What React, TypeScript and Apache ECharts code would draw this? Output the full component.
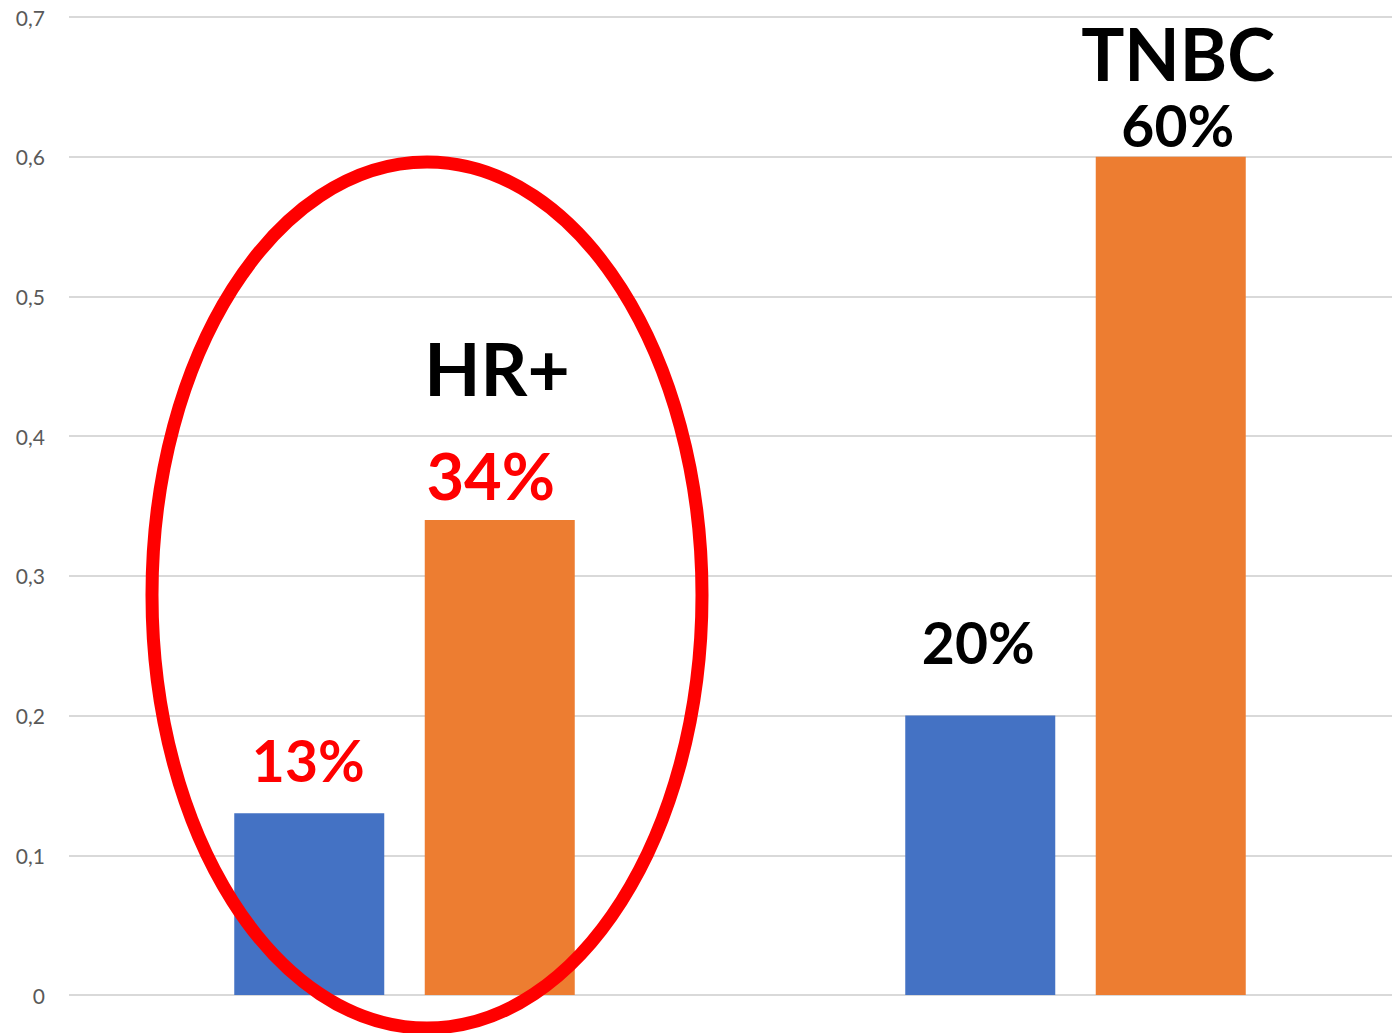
import React, { useEffect, useRef } from "react";
import * as echarts from "echarts";

const categories = ["HR+", "TNBC"];
const seriesBlue = [0.13, 0.2];
const seriesOrange = [0.34, 0.6];
const blueLabels = ["13%", "20%"];
const orangeLabels = ["34%", "60%"];
const yTicks = [0, 0.1, 0.2, 0.3, 0.4, 0.5, 0.6, 0.7];

export default function App() {
  const ref = useRef<HTMLDivElement>(null);
  useEffect(() => {
    if (!ref.current) return;
    const chart = echarts.init(ref.current, undefined, { renderer: "svg" });
    const fontFamily = "Lato, 'Open Sans', sans-serif";
    chart.setOption({
      animation: false,
      grid: { left: 69, top: 17, width: 1342, height: 978, containLabel: false },
      xAxis: {
        type: "category",
        data: categories,
        axisLine: { show: false },
        axisTick: { show: false },
        axisLabel: { show: false },
      },
      yAxis: {
        type: "value",
        min: 0,
        max: 0.7,
        interval: 0.1,
        axisLine: { show: false },
        axisTick: { show: false },
        splitLine: { lineStyle: { color: "#d9d9d9", width: 2 } },
        axisLabel: {
          margin: 24,
          color: "#595959",
          fontSize: 21,
          fontFamily,
          formatter: (v: number) => {
            const t = yTicks.find((x) => Math.abs(x - v) < 1e-9);
            return t === 0 ? "0" : String(Math.round(v * 10) / 10).replace(".", ",");
          },
        },
      },
      series: [
        {
          type: "bar",
          barWidth: 150,
          barGap: "27%",
          itemStyle: { color: "#4472C4" },
          data: seriesBlue.map((v, i) => ({
            value: v,
            label: {
              show: true,
              position: "top",
              formatter: blueLabels[i],
              color: i === 0 ? "#ff0000" : "#000000",
              fontSize: 57,
              fontWeight: "bold",
              fontFamily,
              offset: [i === 0 ? -1 : -2, 0],
              distance: i === 0 ? 25 : 45,
            },
          })),
        },
        {
          type: "bar",
          barWidth: 150,
          barGap: "27%",
          itemStyle: { color: "#ED7D31" },
          data: seriesOrange.map((v, i) => ({
            value: v,
            label: {
              show: true,
              position: "top",
              formatter: orangeLabels[i],
              color: i === 0 ? "#ff0000" : "#000000",
              fontSize: i === 0 ? 65 : 57,
              fontWeight: "bold",
              fontFamily,
              offset: [i === 0 ? -9 : 7, 0],
              distance: i === 0 ? 12 : 3,
            },
          })),
        },
      ],
      graphic: [
        {
          type: "text",
          x: 497,
          y: 404,
          style: {
            text: "HR+",
            fontSize: 73,
            fontWeight: "bold",
            fontFamily,
            fill: "#000",
            textAlign: "center",
            textVerticalAlign: "bottom",
            verticalAlign: "bottom",
            align: "center",
          },
          z: 50,
        },
        {
          type: "text",
          x: 1178,
          y: 89,
          style: {
            text: "TNBC",
            fontSize: 72,
            fontWeight: "bold",
            fontFamily,
            fill: "#000",
            textAlign: "center",
            textVerticalAlign: "bottom",
            verticalAlign: "bottom",
            align: "center",
          },
          z: 50,
        },
        {
          type: "ellipse",
          shape: { cx: 427, cy: 595, rx: 275, ry: 433 },
          style: { fill: "none", stroke: "#ff0000", lineWidth: 13 },
          z: 100,
        },
      ],
    });
    return () => chart.dispose();
  }, []);
  return (
    <div
      ref={ref}
      style={{ position: "fixed", left: 0, top: 0, width: 1420, height: 1033, background: "#fff" }}
    />
  );
}
